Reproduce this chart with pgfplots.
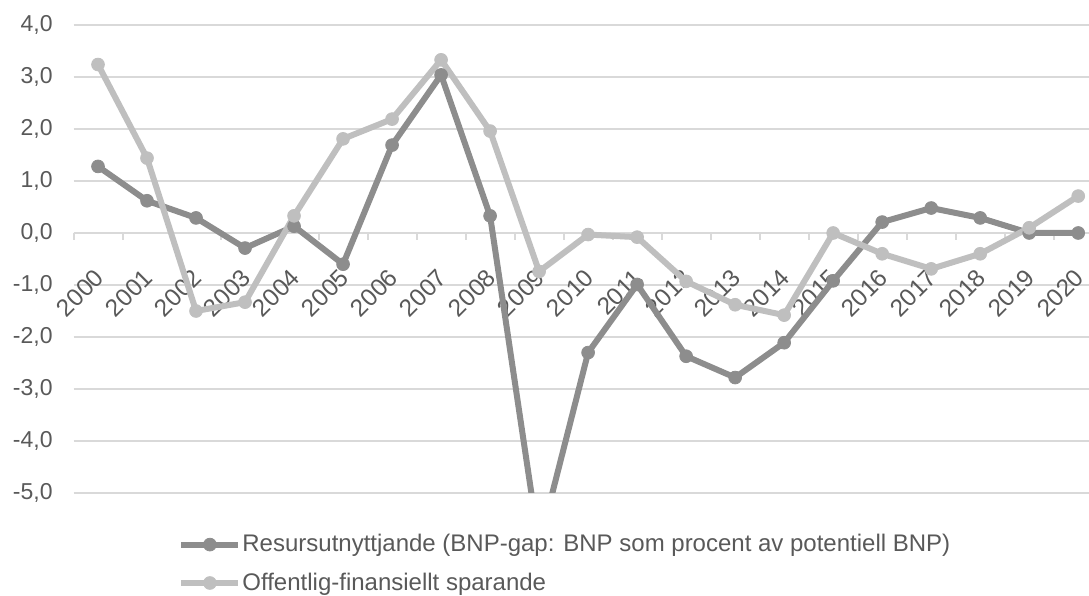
\documentclass[border=0pt]{standalone}
\usepackage{fontspec}
\setmainfont{Liberation Sans}
\usepackage{pgfplots}
\pgfplotsset{compat=1.18}
\definecolor{gridc}{RGB}{217,217,217}
\definecolor{txt}{RGB}{89,89,89}
\definecolor{darks}{RGB}{141,141,141}
\definecolor{lights}{RGB}{191,191,191}
\begin{document}
\begin{tikzpicture}
\begin{axis}[
  name=ax,
  scale only axis,
  width=507.75pt, height=234pt,
  xmin=-0.5, xmax=20.22,
  ymin=-5, ymax=4,
  axis x line=middle,
  axis y line=left,
  y axis line style={draw=none},
  x axis line style={gridc, line width=1pt, -},
  hide obscured x ticks=false,
  hide obscured y ticks=false,
  xtick={0,...,20},
  xticklabels={2000,2001,2002,2003,2004,2005,2006,2007,2008,2009,2010,2011,2012,2013,2014,2015,2016,2017,2018,2019,2020},
  minor xtick={-0.5,0.5,...,19.5},
  major x tick style={draw=none},
  minor x tick style={gridc, line width=1pt},
  minor tick length=3.5pt,
  tick align=outside,
  ytick={-5,-4,...,4},
  major y tick style={draw=none},
  ymajorgrids,
  major grid style={gridc, line width=1pt},
  tick label style={font=\fontsize{11.5}{14}\selectfont, text=txt},
  xticklabel style={font=\fontsize{12.2}{14}\selectfont, yshift=-16pt, xshift=0.8pt, rotate=45, anchor=east, inner sep=0pt},
  yticklabel style={anchor=east, inner sep=0pt, xshift=-6pt},
  /pgf/number format/fixed,
  /pgf/number format/fixed zerofill,
  /pgf/number format/precision=1,
  /pgf/number format/use comma,
  /pgf/number format/assume math mode=true,
  legend style={at={(0.1029,-0.0855)}, anchor=north west, draw=none, fill=none,
    font=\fontsize{12}{14}\selectfont, text=txt, row sep=8pt, inner sep=0pt,
    column sep=0pt, nodes={inner sep=0.5pt}},
  legend cell align=left,
  legend image code/.code={\draw[#1, mark repeat=2, mark phase=2] plot coordinates {(0pt,0pt) (14.25pt,0pt) (28.5pt,0pt)};},
]
\addplot[darks, line width=3pt, mark=*, mark size=3.2pt, mark options={solid, fill=darks, draw=darks, line width=0.4pt}]
  coordinates {(0,1.28) (1,0.62) (2,0.29) (3,-0.29) (4,0.13) (5,-0.60) (6,1.69) (7,3.04) (8,0.33) (9,-6.0) (10,-2.30) (11,-0.99) (12,-2.37) (13,-2.78) (14,-2.11) (15,-0.92) (16,0.21) (17,0.48) (18,0.29) (19,0.0) (20,0.0)};
\addlegendentry{Resursutnyttjande (BNP-gap: BNP som procent av potentiell BNP)}
\addplot[lights, line width=3pt, mark=*, mark size=3.2pt, mark options={solid, fill=lights, draw=lights, line width=0.4pt}]
  coordinates {(0,3.24) (1,1.44) (2,-1.50) (3,-1.33) (4,0.33) (5,1.81) (6,2.19) (7,3.33) (8,1.96) (9,-0.74) (10,-0.03) (11,-0.08) (12,-0.93) (13,-1.38) (14,-1.58) (15,0.0) (16,-0.40) (17,-0.69) (18,-0.40) (19,0.10) (20,0.71)};
\addlegendentry{Offentlig-finansiellt sparande}
\end{axis}
\pgfresetboundingbox
\path ([shift={(-36.75pt,-51.5pt)}]ax.south west) rectangle ([shift={(0pt,12.5pt)}]ax.north east);
\end{tikzpicture}
\end{document}
